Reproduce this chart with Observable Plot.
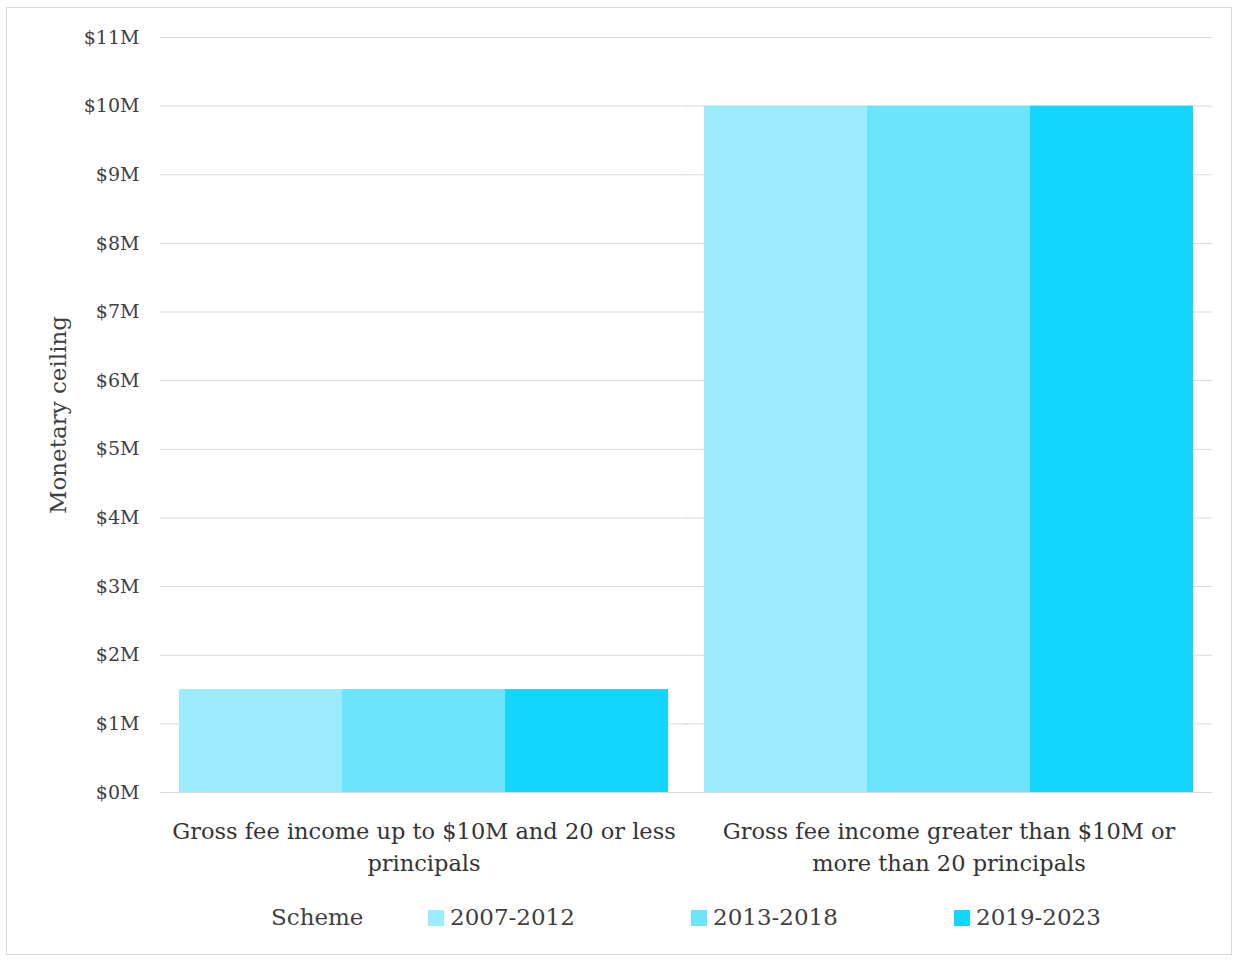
<!DOCTYPE html>
<html>
<head>
<meta charset="utf-8">
<script src="https://cdn.jsdelivr.net/npm/d3@7"></script>
<script src="https://cdn.jsdelivr.net/npm/@observablehq/plot@0.6"></script>
<style>
  html, body { margin: 0; padding: 0; background: #fff; }
  body { position: relative; width: 1238px; height: 961px; font-family: "DejaVu Serif", serif; color: #404040; }
  #frame { position: absolute; left: 6px; top: 7px; width: 1226px; height: 948px; border: 1px solid #d9d9d9; box-sizing: border-box; }
  #chart { position: absolute; left: 0; top: 0; }
  #legend { position: absolute; left: 271px; top: 902px; display: flex; align-items: center; font-size: 23px; line-height: 30px; white-space: nowrap; }
  #legend .title { width: 157px; }
  #legend .item { width: 263px; display: flex; align-items: center; }
  #legend .swatch { width: 16px; height: 16px; margin-right: 6px; margin-top: 2px; }
</style>
</head>
<body>
<div id="frame"></div>
<div id="chart"></div>
<div id="legend"></div>
<script>
// Firm categories (facets) and their two-line axis labels
const groups = [
  "Gross fee income up to $10M and 20 or less principals",
  "Gross fee income greater than $10M or more than 20 principals"
];
const groupLabels = [
  "Gross fee income up to $10M and 20 or less\nprincipals",
  "Gross fee income greater than $10M or\nmore than 20 principals"
];

// Scheme periods and monetary ceilings, in $ millions
const schemes = ["2007-2012", "2013-2018", "2019-2023"];
const smallFirmCeiling = [1.5, 1.5, 1.5];
const largeFirmCeiling = [10, 10, 10];
const schemeColors = ["#9bedfd", "#6ce5fc", "#12d6fb"];

// Y axis ticks ($M)
const yTicks = [0, 1, 2, 3, 4, 5, 6, 7, 8, 9, 10, 11];

const data = [
  ...schemes.map((scheme, i) => ({group: groups[0], scheme, value: smallFirmCeiling[i]})),
  ...schemes.map((scheme, i) => ({group: groups[1], scheme, value: largeFirmCeiling[i]}))
];

const chart = Plot.plot({
  width: 1238,
  height: 890,
  marginLeft: 160,
  marginRight: 26,
  marginTop: 37,
  marginBottom: 98,
  style: {fontFamily: "'DejaVu Serif', serif", fontSize: "19px", color: "#404040", background: "transparent"},
  fx: {domain: groups, paddingInner: 0.065, paddingOuter: 0.034, label: null},
  x: {domain: schemes, padding: 0, axis: null},
  y: {domain: [0, 11], label: null},
  color: {domain: schemes, range: schemeColors},
  marks: [
    // gridlines, repeated in each facet and stretched across the gaps between facets
    Plot.ruleY(yTicks, {stroke: "#d9d9d9", strokeWidth: 1, insetLeft: -18, insetRight: -18}),
    Plot.barY(data, {fx: "group", x: "scheme", y: "value", fill: "scheme"}),
    Plot.axisY(yTicks, {tickSize: 0, tickPadding: 39, tickFormat: d => `$${d}M`, label: null, fontSize: 19}),
    Plot.axisFx({
      anchor: "bottom",
      tickSize: 0,
      tickPadding: 23,
      tickFormat: d => groupLabels[groups.indexOf(d)],
      fontSize: 22.5,
      lineHeight: 1.45,
      fill: "#333",
      label: null
    }),
    Plot.text(["Monetary ceiling"], {
      text: d => d, fx: [groups[0]], frameAnchor: "left", textAnchor: "middle", rotate: -90, dx: -120,
      fontSize: 23, fill: "#404040"
    })
  ]
});
document.getElementById("chart").appendChild(chart);

// Legend
const legend = document.getElementById("legend");
const title = document.createElement("span");
title.className = "title";
title.textContent = "Scheme";
legend.appendChild(title);
schemes.forEach((s, i) => {
  const item = document.createElement("span");
  item.className = "item";
  const sw = document.createElement("span");
  sw.className = "swatch";
  sw.style.background = schemeColors[i];
  const label = document.createElement("span");
  label.textContent = s;
  item.appendChild(sw);
  item.appendChild(label);
  legend.appendChild(item);
});
</script>
</body>
</html>
